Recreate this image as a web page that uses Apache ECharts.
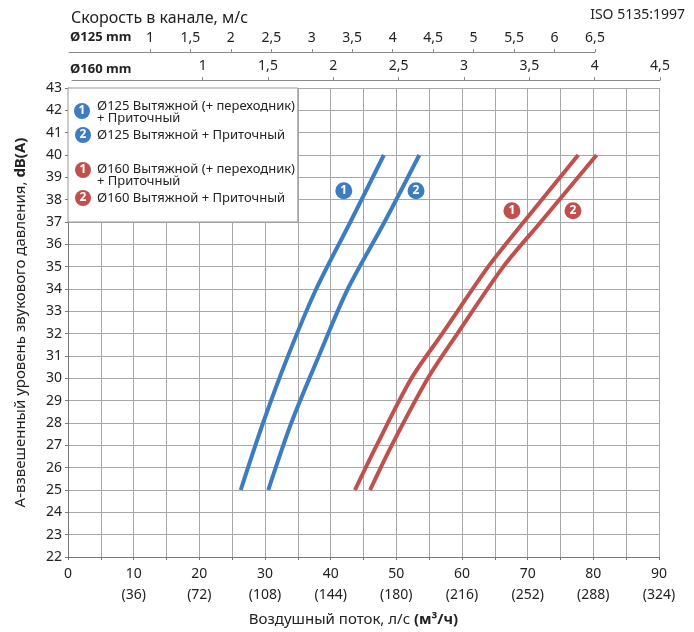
<!DOCTYPE html>
<html>
<head>
<meta charset="utf-8">
<script src="https://cdn.jsdelivr.net/npm/echarts@6/dist/echarts.min.js"></script>
<style>
  html, body { margin: 0; padding: 0; background: #fff; }
  #chart { width: 694px; height: 632px; }
</style>
</head>
<body>
<div id="chart"></div>
<script>
const FONT = '"Noto Sans", sans-serif'

// воздушный поток, л/с и м3/ч
const flowTicks = [0, 10, 20, 30, 40, 50, 60, 70, 80, 90]
const flowM3h = ['', '(36)', '(72)', '(108)', '(144)', '(180)', '(216)', '(252)', '(288)', '(324)']

// скорость в канале, м/с
const v125Ticks = [1, 1.5, 2, 2.5, 3, 3.5, 4, 4.5, 5, 5.5, 6, 6.5]
const v160Ticks = [1, 1.5, 2, 2.5, 3, 3.5, 4, 4.5]

// кривые: поток (л/с) и уровень dB(A)
const blue1Flow = [26.3, 29.7, 33.5, 37.8, 43.0, 48.1]
const blue1Db = [25, 28, 31, 34, 37, 40]
const blue2Flow = [30.5, 34.0, 38.2, 42.6, 48.2, 53.5]
const blue2Db = [25, 28, 31, 34, 37, 40]
const red1Flow = [43.7, 47.0, 52.3, 57.0, 64.0, 69.4, 77.7]
const red1Db = [25, 27, 30, 32, 35, 37, 40]
const red2Flow = [46.0, 49.3, 54.8, 59.3, 66.3, 72.0, 80.5]
const red2Db = [25, 27, 30, 32, 35, 37, 40]

// метки с номерами на графике [поток, dB]
const blue1Badge = [42.0, 38.4]
const blue2Badge = [53.0, 38.4]
const red1Badge = [67.6, 37.5]
const red2Badge = [76.9, 37.5]

// белое поле под легендой [поток, dB]
const legendBox = [[0, 37], [35, 43]]

const BLUE = '#3d7cc0'
const RED = '#c0504d'

const comma = v => String(v).replace('.', ',')
const pairs = (xs, ys) => xs.map((x, i) => [x, ys[i]])

function badge(pos, num, color) {
  return {
    symbol: 'circle',
    symbolSize: 17,
    itemStyle: {color: color},
    label: {show: true, formatter: num, color: '#fff', fontWeight: 'bold', fontSize: 12, fontFamily: FONT},
    data: [{coord: pos}]
  }
}

function curve(name, flow, db, color, pos, num, extra) {
  return Object.assign({
    name: name,
    type: 'line',
    data: pairs(flow, db),
    smooth: 0.3,
    symbol: 'none',
    lineStyle: {color: color, width: 4},
    markPoint: badge(pos, num, color),
    z: 3
  }, extra || {})
}

const chart = echarts.init(document.getElementById('chart'))

const legendItems = [
  {c: BLUE, n: '1', bx: 82, by: 111, ty: 112.5, t: 'Ø125 Вытяжной (+ переходник)\n+ Приточный'},
  {c: BLUE, n: '2', bx: 83, by: 135, ty: 135, t: 'Ø125 Вытяжной + Приточный'},
  {c: RED, n: '1', bx: 83, by: 170, ty: 175.5, t: 'Ø160 Вытяжной (+ переходник)\n+ Приточный'},
  {c: RED, n: '2', bx: 83, by: 198, ty: 198, t: 'Ø160 Вытяжной + Приточный'}
]
const legendGraphics = []
legendItems.forEach(it => {
  legendGraphics.push({type: 'circle', shape: {cx: it.bx, cy: it.by, r: 8}, style: {fill: it.c}, z: 10})
  legendGraphics.push({type: 'text', x: it.bx, y: it.by, z: 11,
    style: {text: it.n, fill: '#fff', font: 'bold 12px ' + FONT, textAlign: 'center', textVerticalAlign: 'middle'}})
  legendGraphics.push({type: 'text', x: 97, y: it.ty, z: 11,
    style: {text: it.t, fill: '#222', font: '13px ' + FONT, textVerticalAlign: 'middle', lineHeight: 12}})
})

const option = {
  animation: false,
  textStyle: {fontFamily: FONT},
  title: [
    {text: 'Скорость в канале, м/с', left: 66, top: 5,
      textStyle: {fontSize: 16, fontWeight: 'normal', color: '#222', fontFamily: FONT}},
    {text: 'ISO 5135:1997', right: 4, top: 3,
      textStyle: {fontSize: 14, fontWeight: 'normal', color: '#222', fontFamily: FONT}}
  ],
  grid: [
    {left: 68, right: 35, top: 88, bottom: 75},
    {left: 69, right: 99, top: 51, height: 1},
    {left: 72, right: 34, top: 79, height: 1}
  ],
  xAxis: [
    {
      gridIndex: 0, type: 'value', min: 0, max: 90, interval: 5,
      name: 'Воздушный поток, л/с {b|(м³/ч)}',
      nameLocation: 'middle', nameGap: 55,
      nameTextStyle: {fontSize: 15, color: '#222', padding: [0, 20, 0, 0],
        rich: {b: {fontSize: 15, fontWeight: 'bold', color: '#222'}}},
      axisLine: {lineStyle: {color: '#777'}},
      axisTick: {show: true, length: 3, lineStyle: {color: '#777'}},
      axisLabel: {
        fontSize: 14, color: '#222', margin: 7, lineHeight: 21, verticalAlign: 'top',
        formatter: v => {
          const i = flowTicks.indexOf(v)
          if (i < 0) return ''
          return flowM3h[i] ? v + '\n' + flowM3h[i] : String(v)
        }
      },
      splitLine: {show: true, lineStyle: {color: '#a8a8a8', width: 1}}
    },
    {
      gridIndex: 1, type: 'value', position: 'top', min: 0, max: 6.5,
      axisLine: {show: true, lineStyle: {color: '#8a8a8a'}},
      axisTick: {show: true, length: 3, customValues: v125Ticks, lineStyle: {color: '#8a8a8a'}},
      axisLabel: {customValues: v125Ticks, formatter: comma, fontSize: 14, color: '#222', margin: 6},
      splitLine: {show: false}
    },
    {
      gridIndex: 2, type: 'value', position: 'top', min: 0, max: 4.5,
      axisLine: {show: true, lineStyle: {color: '#8a8a8a'}},
      axisTick: {show: true, length: 3, customValues: v160Ticks, lineStyle: {color: '#8a8a8a'}},
      axisLabel: {customValues: v160Ticks, formatter: comma, fontSize: 14, color: '#222', margin: 6},
      splitLine: {show: false}
    }
  ],
  yAxis: [
    {
      gridIndex: 0, type: 'value', min: 22, max: 43, interval: 1,
      name: 'А-взвешенный уровень звукового давления, {b|dB(A)}',
      nameLocation: 'middle', nameRotate: 90, nameGap: 40,
      nameTextStyle: {fontSize: 15, color: '#222', rich: {b: {fontSize: 15, fontWeight: 'bold', color: '#222'}}},
      axisLine: {show: true, lineStyle: {color: '#777'}},
      axisTick: {show: true, length: 3, lineStyle: {color: '#777'}},
      axisLabel: {fontSize: 14, color: '#222', margin: 6},
      splitLine: {show: true, lineStyle: {color: '#a8a8a8', width: 1}}
    },
    {gridIndex: 1, type: 'value', show: false},
    {gridIndex: 2, type: 'value', show: false}
  ],
  graphic: legendGraphics.concat([
    {type: 'text', x: 70, y: 37, style: {text: 'Ø125 mm', fill: '#222', font: 'bold 13px ' + FONT, textVerticalAlign: 'middle'}},
    {type: 'text', x: 70, y: 69, style: {text: 'Ø160 mm', fill: '#222', font: 'bold 13px ' + FONT, textVerticalAlign: 'middle'}}
  ]),
  series: [
    curve('Ø125-1', blue1Flow, blue1Db, BLUE, blue1Badge, '1', {
      markArea: {
        silent: true,
        itemStyle: {color: '#fff', borderColor: '#999', borderWidth: 1},
        data: [[{coord: legendBox[0]}, {coord: legendBox[1]}]]
      }
    }),
    curve('Ø125-2', blue2Flow, blue2Db, BLUE, blue2Badge, '2'),
    curve('Ø160-1', red1Flow, red1Db, RED, red1Badge, '1'),
    curve('Ø160-2', red2Flow, red2Db, RED, red2Badge, '2')
  ]
}

chart.setOption(option)
</script>
</body>
</html>
